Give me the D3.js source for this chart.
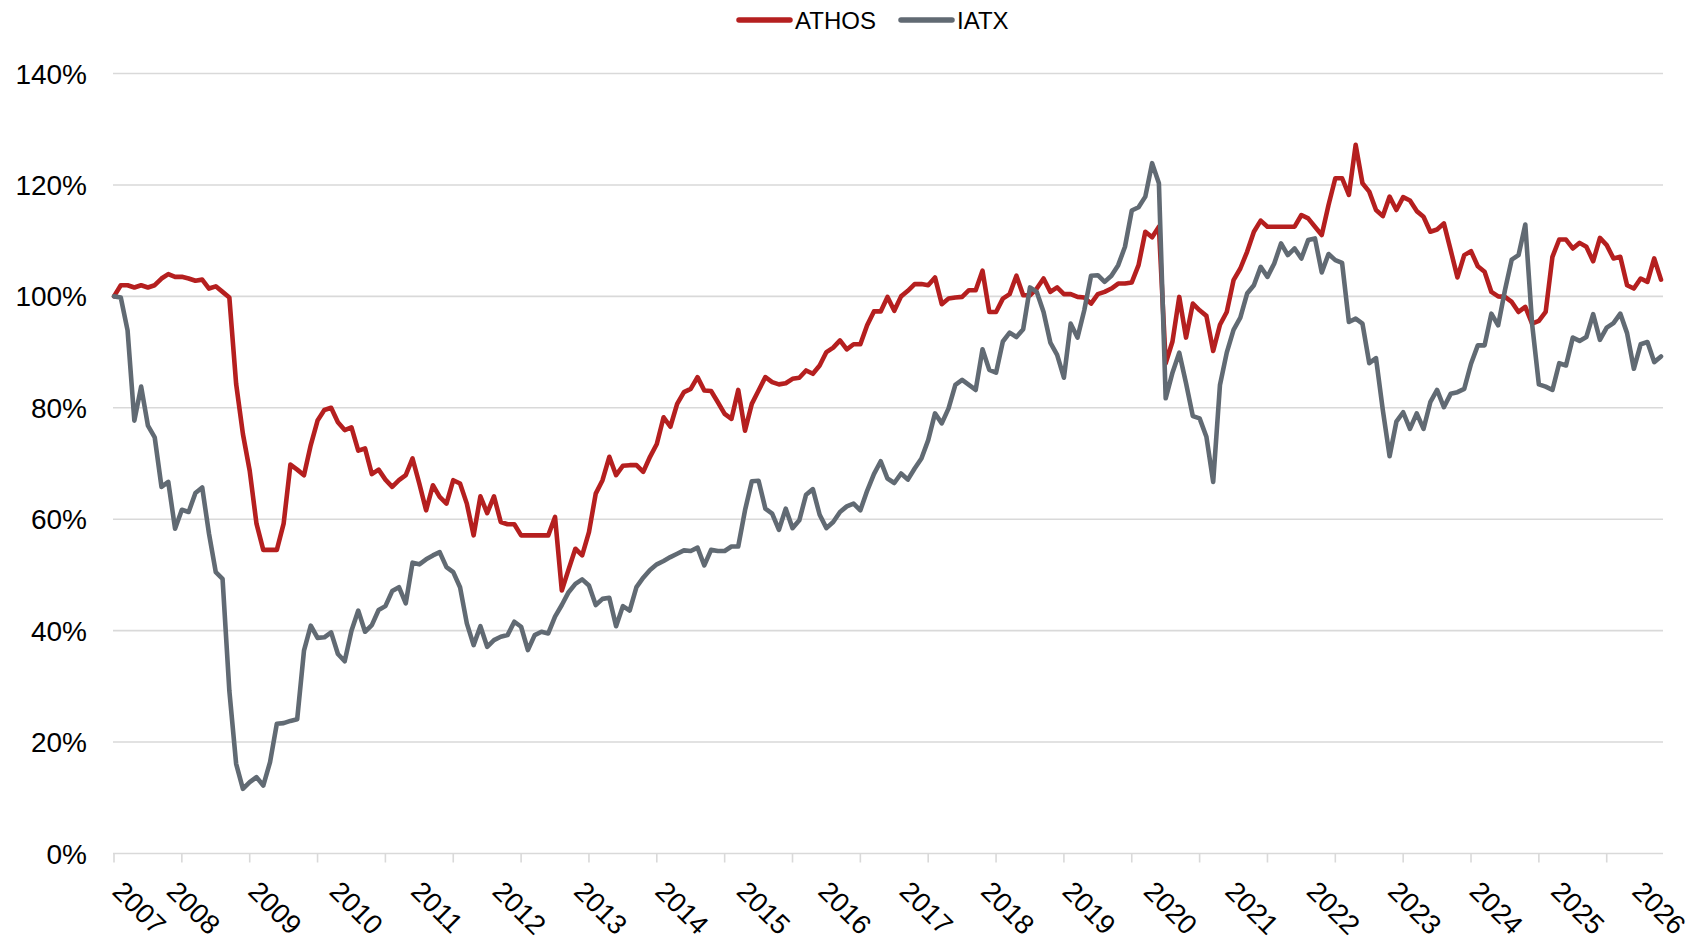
<!DOCTYPE html>
<html lang="en">
<head>
    <meta charset="UTF-8">
    <title>ATHOS vs IATX</title>
    <script src="https://cdn.jsdelivr.net/npm/d3@7"></script>
    <style>
        body { margin: 0; background: #fff; }
        text { font-family: "Liberation Sans", Arial, sans-serif; fill: #000; }
    </style>
</head>
<body>
<div id="chart"></div>
<script>
    // monthly values, first point May 2007, in % of start value
    var athos = [
        100, 102, 102, 101.6, 102, 101.6, 102, 103.2, 104, 103.5,
        103.5, 103.2, 102.8, 103, 101.4, 101.8, 100.8, 99.8, 84.3, 75.3,
        68.7, 59.2, 54.5, 54.5, 54.5, 59.2, 69.8, 68.9, 67.9, 73.3,
        77.7, 79.6, 80.0, 77.4, 76.0, 76.5, 72.3, 72.7, 68.1, 68.9,
        67.1, 65.8, 67.0, 67.9, 70.9, 66.4, 61.6, 66.1, 64.0, 62.8,
        67.0, 66.4, 62.8, 57.1, 64.1, 61.1, 64.1, 59.5, 59.1, 59.1,
        57.1, 57.1, 57.1, 57.1, 57.1, 60.4, 47.2, 51.0, 54.7, 53.5,
        57.7, 64.6, 67.0, 71.2, 67.9, 69.6, 69.7, 69.7, 68.5, 71.2,
        73.5, 78.3, 76.6, 80.7, 82.8, 83.4, 85.5, 83.1, 83.0, 81.0,
        78.9, 78.0, 83.2, 75.9, 80.7, 83.1, 85.5, 84.6, 84.2, 84.4,
        85.2, 85.4, 86.7, 86.1, 87.6, 90.0, 90.8, 92.1, 90.5, 91.4,
        91.4, 94.8, 97.3, 97.3, 99.9, 97.4, 100, 101, 102.2, 102.2,
        102, 103.4, 98.6, 99.6, 99.8, 99.9, 101.1, 101.1, 104.6, 97.2,
        97.2, 99.6, 100.4, 103.7, 100.2, 100.2, 101.4, 103.2, 100.8, 101.6,
        100.4, 100.4, 99.9, 99.8, 98.7, 100.4, 100.8, 101.4, 102.3, 102.3,
        102.5, 105.6, 111.6, 110.6, 112.5, 88.0, 91.9, 99.9, 92.6, 98.7,
        97.5, 96.5, 90.2, 94.9, 97.2, 102.9, 105, 108, 111.6, 113.6,
        112.5, 112.5, 112.5, 112.5, 112.5, 114.6, 114, 112.5, 111, 116.4,
        121.2, 121.2, 118.2, 127.2, 120.3, 118.8, 115.5, 114.4, 117.9, 115.5,
        117.8, 117.2, 115.3, 114.3, 111.6, 112, 113.1, 108.3, 103.4, 107.4,
        108.1, 105.4, 104.4, 100.8, 100, 99.9, 99, 97.2, 98.1, 95.1,
        95.6, 97.2, 107.1, 110.2, 110.2, 108.6, 109.6, 108.9, 106.3, 110.5,
        109.2, 106.8, 107.1, 102, 101.4, 103.2, 102.6, 106.8, 103
    ];

    var iatx = [
        100, 99.8, 93.9, 77.7, 83.8, 76.8, 74.7, 65.8, 66.7, 58.3,
        61.7, 61.3, 64.7, 65.7, 57.4, 50.5, 49.3, 29.2, 16.1, 11.6,
        12.8, 13.7, 12.2, 16.4, 23.3, 23.4, 23.8, 24.1, 36.4, 40.9,
        38.7, 38.8, 39.7, 35.8, 34.5, 40.0, 43.6, 39.8, 41.0, 43.7,
        44.4, 47.1, 47.8, 44.9, 52.2, 51.9, 52.8, 53.5, 54.1, 51.4,
        50.5, 47.8, 41.3, 37.4, 40.8, 37.1, 38.3, 38.9, 39.2, 41.6,
        40.7, 36.5, 39.2, 39.8, 39.5, 42.5, 44.6, 46.9, 48.4, 49.2,
        48.1, 44.6, 45.7, 45.9, 40.8, 44.4, 43.6, 47.8, 49.5, 50.9,
        51.9, 52.5, 53.2, 53.8, 54.4, 54.3, 54.9, 51.7, 54.5, 54.3,
        54.3, 55.1, 55.1, 61.6, 66.8, 66.9, 61.9, 61.0, 58.1, 61.9,
        58.4, 59.8, 64.4, 65.4, 60.8, 58.4, 59.5, 61.3, 62.3, 62.8,
        61.6, 65.1, 68.1, 70.4, 67.3, 66.5, 68.2, 67.1, 69.1, 70.9,
        74.2, 79, 77.2, 79.9, 84.1, 85, 84.1, 83.2, 90.5, 86.8,
        86.3, 91.9, 93.5, 92.7, 94.1, 101.6, 100.8, 97.2, 91.7, 89.5,
        85.4, 95.1, 92.6, 97.5, 103.7, 103.8, 102.6, 103.7, 105.6, 108.9,
        115.4, 116, 117.9, 123.9, 120.3, 81.7, 86.3, 89.9, 84.4, 78.5,
        78.1, 74.8, 66.7, 84.1, 89.9, 94, 96.2, 100.5, 102, 105.3,
        103.5, 105.9, 109.5, 107.4, 108.6, 106.8, 110.1, 110.4, 104.3, 107.6,
        106.5, 106, 95.4, 96, 95.1, 88, 88.9, 79.6, 71.3, 77.5,
        79.2, 76.2, 79, 76.2, 81, 83.2, 80.1, 82.5, 82.8, 83.4,
        87.9, 91.2, 91.2, 96.9, 94.8, 101.1, 106.6, 107.4, 112.9, 95.1,
        84.2, 83.8, 83.2, 88, 87.6, 92.6, 92, 92.7, 96.8, 92.2,
        94.4, 95.2, 96.9, 93.4, 87, 91.4, 91.8, 88.2, 89.2
    ];

    var years = ["2007","2008","2009","2010","2011","2012","2013","2014","2015","2016",
                 "2017","2018","2019","2020","2021","2022","2023","2024","2025","2026"];
    // month index of each label: first point, then every January
    var yearIdx = [0, 8, 20, 32, 44, 56, 68, 80, 92, 104, 116, 128, 140, 152, 164, 176, 188, 200, 212, 224];
    var yTicks = [0, 20, 40, 60, 80, 100, 120, 140];

    var series = [
        {name: "ATHOS", values: athos, color: "#b51f1f"},
        {name: "IATX", values: iatx, color: "#616a73"}
    ];

    var W = 1697, H = 940;
    var svg = d3.select("#chart").append("svg")
            .attr("width", W)
            .attr("height", H);

    var x = d3.scaleLinear().domain([0, athos.length - 1]).range([114, 1661]);
    var y = d3.scaleLinear().domain([0, 140]).range([853.5, 73.5]);

    // grid
    svg.append("g").selectAll("line")
            .data(yTicks)
            .enter()
            .append("line")
            .attr("x1", 113)
            .attr("x2", 1663)
            .attr("y1", function(d){ return y(d); })
            .attr("y2", function(d){ return y(d); })
            .style("stroke", "#d9d9d9")
            .style("stroke-width", 1.6);

    svg.append("g").selectAll("text")
            .data(yTicks)
            .enter()
            .append("text")
            .attr("x", 87)
            .attr("y", function(d){ return y(d); })
            .attr("dy", "0.36em")
            .attr("text-anchor", "end")
            .style("font-size", "28px")
            .text(function(d){ return d + "%"; });

    // x ticks every 10 months
    svg.append("g").selectAll("line")
            .data(d3.range(0, athos.length - 1, 10))
            .enter()
            .append("line")
            .attr("x1", function(d){ return x(d); })
            .attr("x2", function(d){ return x(d); })
            .attr("y1", y(0))
            .attr("y2", y(0) + 9)
            .style("stroke", "#d9d9d9")
            .style("stroke-width", 1.6);

    svg.append("g").selectAll("text")
            .data(years)
            .enter()
            .append("text")
            .attr("transform", function(d, i){
                return "translate(" + (x(yearIdx[i]) - 3) + "," + 893 + ") rotate(45)";
            })
            .style("font-size", "27.5px")
            .text(function(d){ return d; });

    // lines
    var line = d3.line()
            .x(function(d, i){ return x(i); })
            .y(function(d){ return y(d); });

    svg.append("g").selectAll("path")
            .data(series)
            .enter()
            .append("path")
            .attr("d", function(d){ return line(d.values); })
            .style("fill", "none")
            .style("stroke", function(d){ return d.color; })
            .style("stroke-width", 4.6)
            .style("stroke-linejoin", "round")
            .style("stroke-linecap", "round");

    // legend
    var legX = [739, 901];
    var legend = svg.append("g").attr("class", "legend");
    legend.selectAll("line")
            .data(series)
            .enter()
            .append("line")
            .attr("x1", function(d, i){ return legX[i]; })
            .attr("x2", function(d, i){ return legX[i] + 51; })
            .attr("y1", 20)
            .attr("y2", 20)
            .style("stroke", function(d){ return d.color; })
            .style("stroke-width", 5.5)
            .style("stroke-linecap", "round");
    legend.selectAll("text")
            .data(series)
            .enter()
            .append("text")
            .attr("x", function(d, i){ return legX[i] + 56; })
            .attr("y", 20)
            .attr("dy", "0.36em")
            .style("font-size", "24px")
            .text(function(d){ return d.name; });
</script>
</body>
</html>
